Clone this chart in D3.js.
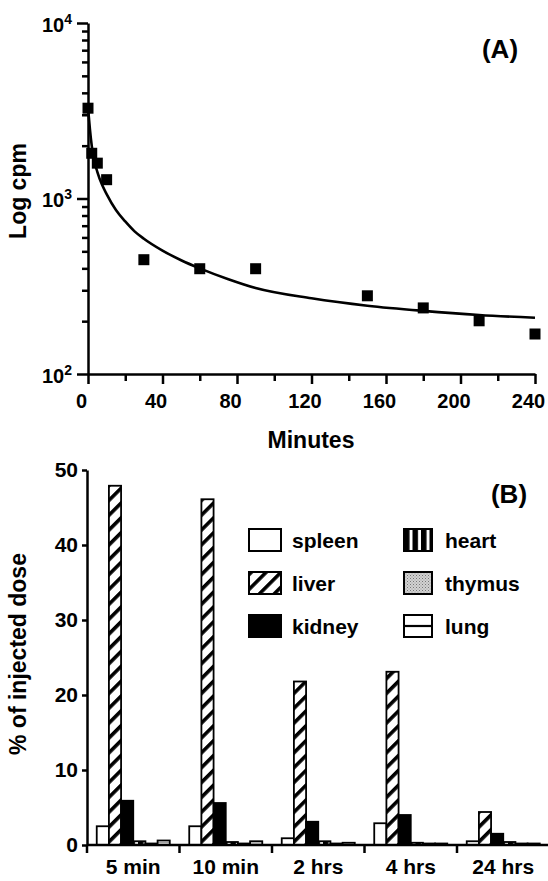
<!DOCTYPE html>
<html>
<head>
<meta charset="utf-8">
<script src="https://cdn.jsdelivr.net/npm/d3@7"></script>
<style>
  body { margin: 0; background: #fff; }
  svg { display: block; font-family: "Liberation Sans", Arial, sans-serif; font-weight: bold; }
  .axis path, .axis line { stroke: #000; stroke-width: 2.5; }
  .axis text { fill: #000; font-family: "Liberation Sans", Arial, sans-serif; font-weight: bold; }
</style>
</head>
<body>
<script>
// panel A: clearance from blood
var minutes = [0, 2, 5, 10, 30, 60, 90, 150, 180, 210, 240];
var cpm = [3270, 1810, 1590, 1280, 448, 398, 398, 279, 238, 201, 169];

// fitted curve
var fitMinutes = [0, 1, 2, 3, 5, 7.5, 10, 15, 20, 25, 30, 40, 50, 60, 75, 90, 120, 150, 180, 210, 240];
var fitCpm = [3300, 2500, 2000, 1700, 1420, 1200, 1060, 860, 740, 650, 590, 505, 445, 400, 348, 309, 270, 245, 229, 217, 209];

// panel B: organ distribution
var timepoints = ["5 min", "10 min", "2 hrs", "4 hrs", "24 hrs"];
var organs = ["spleen", "liver", "kidney", "heart", "thymus", "lung"];
var spleen = [2.5, 2.5, 0.9, 2.9, 0.5];
var liver  = [47.9, 46.1, 21.8, 23.1, 4.4];
var kidney = [5.9, 5.6, 3.1, 4.0, 1.5];
var heart  = [0.5, 0.4, 0.5, 0.3, 0.4];
var thymus = [0.2, 0.2, 0.2, 0.2, 0.2];
var lung   = [0.6, 0.5, 0.3, 0.2, 0.2];
var doseTicks = [0, 10, 20, 30, 40, 50];

var width = 548,
    height = 881;

var svg = d3.select("body").append("svg")
    .attr("width", width)
    .attr("height", height);

// fills
var defs = svg.append("defs");

var hatch = defs.append("pattern")
    .attr("id", "hatch")
    .attr("patternUnits", "userSpaceOnUse")
    .attr("width", 10.5).attr("height", 10.5)
    .attr("patternTransform", "rotate(45)");
hatch.append("rect").attr("width", 10.5).attr("height", 10.5).attr("fill", "#fff");
hatch.append("rect").attr("width", 3.6).attr("height", 10.5).attr("fill", "#000");

var stripes = defs.append("pattern")
    .attr("id", "vstripe")
    .attr("patternUnits", "userSpaceOnUse")
    .attr("width", 8.5).attr("height", 8);
stripes.append("rect").attr("width", 8.5).attr("height", 8).attr("fill", "#fff");
stripes.append("rect").attr("width", 5.5).attr("height", 8).attr("fill", "#000");

var dots = defs.append("pattern")
    .attr("id", "dots")
    .attr("patternUnits", "userSpaceOnUse")
    .attr("width", 3).attr("height", 3);
dots.append("rect").attr("width", 3).attr("height", 3).attr("fill", "#d2d2d2");
dots.append("rect").attr("width", 1).attr("height", 1).attr("fill", "#777");
dots.append("rect").attr("x", 1.5).attr("y", 1.5).attr("width", 1).attr("height", 1).attr("fill", "#999");

var hline = defs.append("pattern")
    .attr("id", "hline")
    .attr("patternContentUnits", "objectBoundingBox")
    .attr("width", 1).attr("height", 1);
hline.append("rect").attr("width", 1).attr("height", 1).attr("fill", "#fff");
hline.append("rect").attr("y", 0.45).attr("width", 1).attr("height", 0.1).attr("fill", "#000");

var fills = {
  spleen: "#fff",
  liver: "url(#hatch)",
  kidney: "#000",
  heart: "url(#vstripe)",
  thymus: "url(#dots)",
  lung: "url(#hline)"
};

// ---------- panel A ----------
var x = d3.scaleLinear().domain([0, 240]).range([88, 535]);
var y = d3.scaleLog().domain([100, 10000]).range([374, 23]);

var xAxisA = svg.append("g")
    .attr("class", "axis")
    .attr("transform", "translate(0,374)")
    .call(d3.axisBottom(x)
      .tickValues(d3.range(0, 241, 20))
      .tickSizeOuter(0)
      .tickFormat(function(d) { return d % 40 === 0 ? d : ""; }));
xAxisA.selectAll(".tick line")
    .attr("y2", function(d) { return d % 40 === 0 ? 10 : 7; });
xAxisA.selectAll(".tick text")
    .attr("x", -7)
    .attr("y", 20)
    .style("font-size", "20px");

var yAxisA = svg.append("g")
    .attr("class", "axis")
    .attr("transform", "translate(88,0)")
    .call(d3.axisLeft(y)
      .tickValues(y.ticks())
      .tickSizeOuter(0)
      .tickFormat(""));
yAxisA.selectAll(".tick line")
    .attr("x2", function(d) { return Math.log10(d) % 1 === 0 ? -11 : -6; });

var decades = yAxisA.selectAll(".tick")
    .filter(function(d) { return Math.log10(d) % 1 === 0; })
  .append("text")
    .attr("x", -16)
    .attr("dy", "0.42em")
    .attr("text-anchor", "end")
    .style("font-size", "20px");
decades.append("tspan").text("10");
decades.append("tspan")
    .attr("dy", "-0.6em")
    .style("font-size", "14px")
    .text(function(d) { return Math.round(Math.log10(d)); });

svg.append("path")
    .datum(fitMinutes.map(function(t, i) { return [t, fitCpm[i]]; }))
    .attr("fill", "none")
    .attr("stroke", "#000")
    .attr("stroke-width", 2.6)
    .attr("d", d3.line()
      .x(function(d) { return x(d[0]); })
      .y(function(d) { return y(d[1]); })
      .curve(d3.curveMonotoneX));

svg.append("g").selectAll("rect")
    .data(minutes.map(function(t, i) { return [t, cpm[i]]; }))
  .enter().append("rect")
    .attr("x", function(d) { return x(d[0]) - 5.5; })
    .attr("y", function(d) { return y(d[1]) - 5.5; })
    .attr("width", 11)
    .attr("height", 11)
    .attr("fill", "#000");

svg.append("text")
    .attr("transform", "translate(26,191) rotate(-90)")
    .attr("text-anchor", "middle")
    .style("font-size", "23px")
    .text("Log cpm");

svg.append("text")
    .attr("x", 311)
    .attr("y", 448)
    .attr("text-anchor", "middle")
    .style("font-size", "23px")
    .text("Minutes");

svg.append("text")
    .attr("x", 500)
    .attr("y", 58)
    .attr("text-anchor", "middle")
    .style("font-size", "26px")
    .text("(A)");

// ---------- panel B ----------
var values = { spleen: spleen, liver: liver, kidney: kidney, heart: heart, thymus: thymus, lung: lung };

var x0 = d3.scaleBand().domain(timepoints).range([87, 549.5]);
var x1 = d3.scaleBand().domain(organs).range([0, x0.bandwidth()]).paddingOuter(0.8);
var yB = d3.scaleLinear().domain([0, 50]).range([845, 470]);

var groups = svg.append("g").selectAll("g")
    .data(timepoints)
  .enter().append("g")
    .attr("transform", function(d) { return "translate(" + x0(d) + ",0)"; });

groups.selectAll("rect")
    .data(function(t, i) { return organs.map(function(o) { return { organ: o, value: values[o][i] }; }); })
  .enter().append("rect")
    .attr("x", function(d) { return x1(d.organ); })
    .attr("y", function(d) { return yB(d.value); })
    .attr("width", x1.bandwidth())
    .attr("height", function(d) { return yB(0) - yB(d.value); })
    .attr("fill", function(d) { return fills[d.organ]; })
    .attr("stroke", "#000")
    .attr("stroke-width", 1.8);

var yAxisB = svg.append("g")
    .attr("class", "axis")
    .attr("transform", "translate(87,0)")
    .call(d3.axisLeft(yB).tickValues(doseTicks).tickSize(5).tickSizeOuter(0));
yAxisB.selectAll(".tick text")
    .attr("x", -9)
    .style("font-size", "21px");

var xAxisB = svg.append("g")
    .attr("class", "axis")
    .attr("transform", "translate(0,845)");
xAxisB.append("path")
    .attr("d", "M" + x0.range()[0] + ",0H" + x0.range()[1]);
xAxisB.selectAll("line")
    .data(timepoints)
  .enter().append("line")
    .attr("x1", function(d) { return x0(d); })
    .attr("x2", function(d) { return x0(d); })
    .attr("y2", 8);
xAxisB.selectAll("text")
    .data(timepoints)
  .enter().append("text")
    .attr("x", function(d) { return x0(d) + x0.bandwidth() / 2; })
    .attr("y", 29)
    .attr("text-anchor", "middle")
    .style("font-size", "21px")
    .text(function(d) { return d; });

svg.append("text")
    .attr("transform", "translate(26,654) rotate(-90)")
    .attr("text-anchor", "middle")
    .style("font-size", "23px")
    .text("% of injected dose");

svg.append("text")
    .attr("x", 509)
    .attr("y", 503)
    .attr("text-anchor", "middle")
    .style("font-size", "26px")
    .text("(B)");

// legend, two columns of three
var legend = svg.selectAll(".legend")
    .data(organs)
  .enter().append("g")
    .attr("class", "legend")
    .attr("transform", function(d, i) {
      var col = Math.floor(i / 3), row = i % 3;
      return "translate(" + (col ? 404 : 249) + "," + (529 + row * 43) + ")";
    });

legend.append("rect")
    .attr("width", function(d, i) { return i < 3 ? 32 : 28; })
    .attr("height", 22)
    .attr("fill", function(d) { return fills[d]; })
    .attr("stroke", "#000")
    .attr("stroke-width", 2);

legend.append("text")
    .attr("x", function(d, i) { return i < 3 ? 43 : 41; })
    .attr("y", 19)
    .style("font-size", "21px")
    .text(function(d) { return d; });
</script>
</body>
</html>
